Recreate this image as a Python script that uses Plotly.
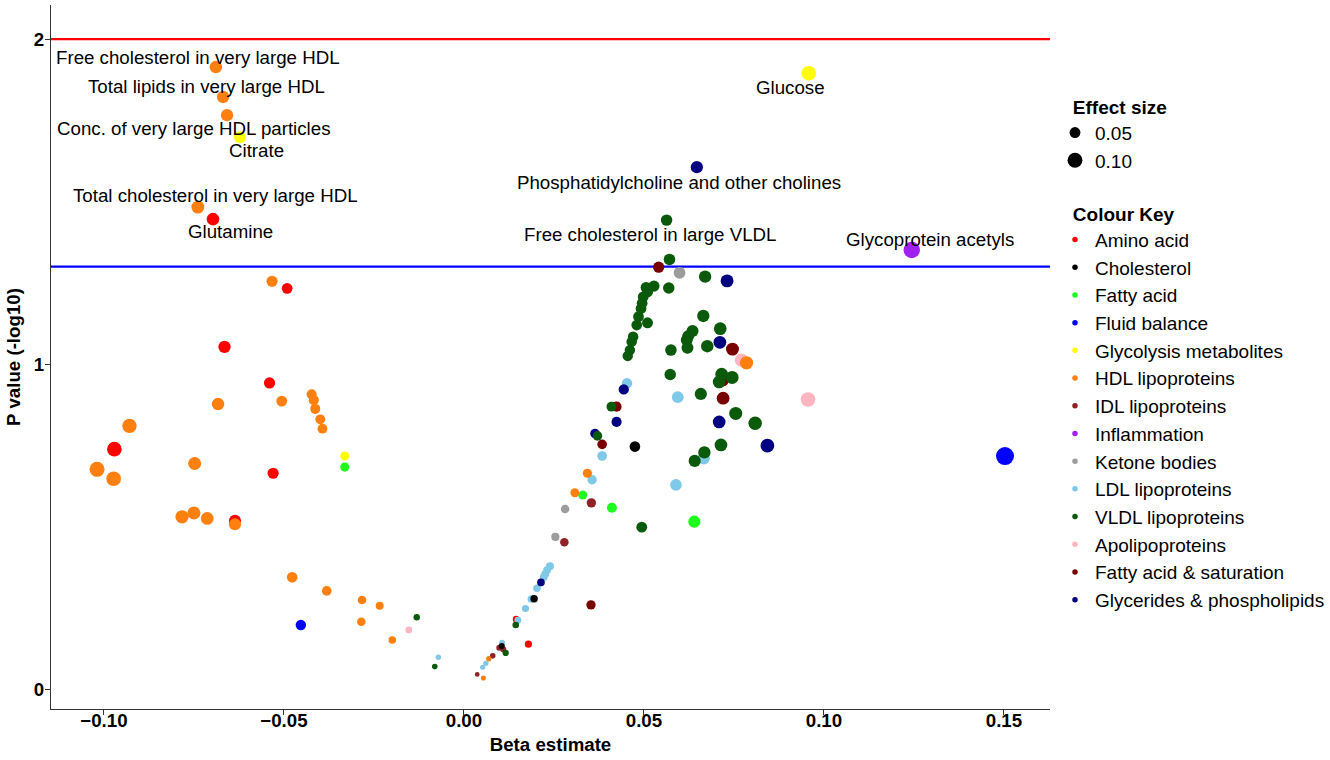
import numpy as np
import plotly.graph_objects as go

# ---------------- data (beta estimate, -log10 p) per colour-key category ----------------
categories = ["Amino acid", "Cholesterol", "Fatty acid", "Fluid balance", "Glycolysis metabolites",
              "HDL lipoproteins", "IDL lipoproteins", "Inflammation", "Ketone bodies", "LDL lipoproteins",
              "VLDL lipoproteins", "Apolipoproteins", "Fatty acid & saturation", "Glycerides & phospholipids"]

amino_beta = [-0.0697, -0.0491, -0.0665, -0.0540, -0.0971, -0.0530, -0.0636, 0.0179, 0.0145]
amino_p    = [1.446, 1.233, 1.053, 0.942, 0.738, 0.664, 0.518, 0.138, 0.215]

chol_beta = [0.0475, 0.0195, 0.0105]
chol_p    = [0.746, 0.278, 0.132]

fa_beta = [-0.0331, 0.0330, 0.0411, 0.0640]
fa_p    = [0.683, 0.597, 0.558, 0.515]

fluid_beta = [-0.0453, 0.1503]
fluid_p    = [0.197, 0.717]

glyc_beta = [0.0958, -0.0622, -0.0331]
glyc_p    = [1.895, 1.698, 0.717]

hdl_beta = [-0.0689, -0.0669, -0.0658, -0.0739, -0.0533, -0.0683, -0.0506, -0.0423, -0.0417, -0.0413,
            -0.0399, -0.0393, -0.0929, -0.0748, -0.1019, -0.0973, -0.0783, -0.0750, -0.0713, -0.0636,
            -0.0477, -0.0381, -0.0283, -0.0234, -0.0285, -0.0199, 0.0054, 0.0069, 0.0343, 0.0308, 0.0785]
hdl_p    = [1.914, 1.822, 1.766, 1.483, 1.255, 0.877, 0.886, 0.907, 0.889, 0.862,
            0.830, 0.801, 0.810, 0.694, 0.676, 0.647, 0.530, 0.542, 0.525, 0.507,
            0.344, 0.302, 0.274, 0.256, 0.207, 0.151, 0.034, 0.093, 0.664, 0.604, 1.004]

idl_beta = [0.0354, 0.0279, 0.0098, 0.0109, 0.0080, 0.0037]
idl_p    = [0.573, 0.452, 0.127, 0.122, 0.102, 0.045]

infl_beta = [0.1244]
infl_p    = [1.351]

ketone_beta = [0.0599, 0.0281, 0.0254]
ketone_p    = [1.281, 0.554, 0.468]

ldl_beta = [0.0453, 0.0594, 0.0666, 0.0384, 0.0356, 0.0589, 0.0239, 0.0231, 0.0226, 0.0222,
            0.0203, 0.0187, 0.0171, 0.0150, 0.0106, 0.0061, 0.0052, -0.0071]
ldl_p    = [0.941, 0.898, 0.710, 0.717, 0.644, 0.628, 0.378, 0.366, 0.354, 0.345,
            0.310, 0.277, 0.248, 0.212, 0.142, 0.079, 0.067, 0.098]

vldl_beta = [0.0563, 0.0571, 0.0670, 0.0506, 0.0528, 0.0569, 0.0510, 0.0498, 0.0495, 0.0492,
             0.0485, 0.0480, 0.0510, 0.0470, 0.0466, 0.0461, 0.0455, 0.0665, 0.0635, 0.0623,
             0.0619, 0.0712, 0.0575, 0.0621, 0.0676, 0.0573, 0.0716, 0.0745, 0.0709, 0.0658,
             0.0755, 0.0809, 0.0714, 0.0668, 0.0641, 0.0410, 0.0371, 0.0494, 0.0144, 0.0116,
             -0.0131, -0.0081]
vldl_p    = [1.443, 1.322, 1.269, 1.236, 1.240, 1.234, 1.222, 1.207, 1.187, 1.171,
             1.146, 1.120, 1.127, 1.084, 1.069, 1.043, 1.025, 1.148, 1.102, 1.086,
             1.074, 1.109, 1.043, 1.050, 1.055, 0.968, 0.969, 0.959, 0.945, 0.908,
             0.848, 0.818, 0.751, 0.728, 0.702, 0.869, 0.779, 0.498, 0.197, 0.111,
             0.221, 0.069]

apo_beta = [0.0771, 0.0956, -0.0153]
apo_p    = [1.012, 0.891, 0.182]

fasat_beta = [0.0541, 0.0746, 0.0719, 0.0720, 0.0424, 0.0384, 0.0353]
fasat_p    = [1.298, 1.046, 0.951, 0.895, 0.869, 0.753, 0.259]

glyph_beta = [0.0647, 0.0731, 0.0711, 0.0444, 0.0424, 0.0709, 0.0843, 0.0364, 0.0214]
glyph_p    = [1.606, 1.256, 1.067, 0.922, 0.822, 0.822, 0.749, 0.786, 0.328]

effect_sizes = [0.05, 0.10]
x_ticks = [-0.10, -0.05, 0.00, 0.05, 0.10, 0.15]
y_ticks = [0, 1, 2]
threshold_red = 2.0
threshold_blue = 1.30

# labelled metabolites: (category, index in that category's arrays, text)
labels = [
    ("HDL lipoproteins", 0, "Free cholesterol in very large HDL"),
    ("HDL lipoproteins", 1, "Total lipids in very large HDL"),
    ("HDL lipoproteins", 2, "Conc. of very large HDL particles"),
    ("Glycolysis metabolites", 1, "Citrate"),
    ("HDL lipoproteins", 3, "Total cholesterol in very large HDL"),
    ("Amino acid", 0, "Glutamine"),
    ("Glycolysis metabolites", 0, "Glucose"),
    ("Glycerides & phospholipids", 0, "Phosphatidylcholine and other cholines"),
    ("VLDL lipoproteins", 0, "Free cholesterol in large VLDL"),
    ("Inflammation", 0, "Glycoprotein acetyls"),
]
# label offsets in px (dx, dy) -- styling only
label_offsets = [(-18, 10), (-17, 10), (-33, -13), (16, -13), (18, 12), (17, -12),
                 (-18, -14), (-18, -15), (-17, -14), (18, 11)]

data = {
    "Amino acid": (amino_beta, amino_p),
    "Cholesterol": (chol_beta, chol_p),
    "Fatty acid": (fa_beta, fa_p),
    "Fluid balance": (fluid_beta, fluid_p),
    "Glycolysis metabolites": (glyc_beta, glyc_p),
    "HDL lipoproteins": (hdl_beta, hdl_p),
    "IDL lipoproteins": (idl_beta, idl_p),
    "Inflammation": (infl_beta, infl_p),
    "Ketone bodies": (ketone_beta, ketone_p),
    "LDL lipoproteins": (ldl_beta, ldl_p),
    "VLDL lipoproteins": (vldl_beta, vldl_p),
    "Apolipoproteins": (apo_beta, apo_p),
    "Fatty acid & saturation": (fasat_beta, fasat_p),
    "Glycerides & phospholipids": (glyph_beta, glyph_p),
}

colors = {
    "Amino acid": "#FF0000",
    "Cholesterol": "#000000",
    "Fatty acid": "#1EFF1E",
    "Fluid balance": "#0000FF",
    "Glycolysis metabolites": "#FFFF00",
    "HDL lipoproteins": "#FF7F0F",
    "IDL lipoproteins": "#8E2226",
    "Inflammation": "#A020F0",
    "Ketone bodies": "#9C9C9C",
    "LDL lipoproteins": "#7EC8E8",
    "VLDL lipoproteins": "#0B5A0B",
    "Apolipoproteins": "#FFB6C1",
    "Fatty acid & saturation": "#780000",
    "Glycerides & phospholipids": "#000080",
}

def size_of(b):
    # area-like size scale for |beta| -> marker diameter (px)
    return np.sqrt(14.7 + 2062.0 * np.abs(np.asarray(b, dtype=float)))

FONT = "Liberation Sans, Arial, Helvetica, sans-serif"
FS = 18.7
LFS = 19
INDENT = "\u00a0\u00a0\u00a0"  # nudges legend titles right to line up as in the reference

fig = go.Figure()

draw_order = ["Apolipoproteins", "Amino acid", "Fluid balance", "Glycolysis metabolites", "Fatty acid",
              "Ketone bodies", "IDL lipoproteins", "Fatty acid & saturation", "LDL lipoproteins",
              "Glycerides & phospholipids", "VLDL lipoproteins", "Cholesterol", "HDL lipoproteins",
              "Inflammation"]
for cat in draw_order:
    bx, py = data[cat]
    fig.add_trace(go.Scatter(
        x=bx, y=py, mode="markers", name=cat, showlegend=False,
        marker=dict(color=colors[cat], size=size_of(bx), sizemode="diameter", line=dict(width=0), opacity=1),
        hovertemplate=cat + "<br>beta=%{x}<br>-log10 p=%{y}<extra></extra>",
    ))

# legend: Effect size
for i, es in enumerate(effect_sizes):
    fig.add_trace(go.Scatter(
        x=[None], y=[None], mode="markers", name=f"{es:.2f}", legend="legend",
        marker=dict(color="black", size=float(size_of(es))), showlegend=True, legendrank=i + 1,
    ))
# legend: Colour Key
for i, cat in enumerate(categories):
    fig.add_trace(go.Scatter(
        x=[None], y=[None], mode="markers", name=cat, legend="legend2",
        marker=dict(color=colors[cat], size=5.5), showlegend=True, legendrank=i + 1,
    ))

# labels
for (cat, idx, txt), (dx, dy) in zip(labels, label_offsets):
    bx, py = data[cat]
    fig.add_annotation(x=bx[idx], y=py[idx], text=txt, showarrow=False, xshift=dx, yshift=dy,
                       font=dict(family=FONT, size=FS, color="black"))

# threshold lines
fig.add_shape(type="line", xref="paper", x0=0, x1=1, yref="y", y0=threshold_red, y1=threshold_red,
              line=dict(color="#FF0000", width=2.2), layer="below")
fig.add_shape(type="line", xref="paper", x0=0, x1=1, yref="y", y0=threshold_blue, y1=threshold_blue,
              line=dict(color="#0000FF", width=2.2), layer="below")

axis_common = dict(showgrid=False, zeroline=False, showline=True, linecolor="#333333", linewidth=1.3,
                   ticks="outside", ticklen=5, tickwidth=1.3, tickcolor="#333333", automargin=False,
                   tickfont=dict(family=FONT, size=FS, color="black", weight="bold"))

fig.update_layout(
    width=1330, height=760,
    margin=dict(l=51, r=280, t=5, b=51, autoexpand=False),
    paper_bgcolor="white", plot_bgcolor="white",
    font=dict(family=FONT, size=FS, color="black"),
    xaxis=dict(range=[-0.1147, 0.1628], tickvals=x_ticks, tickformat=".2f", ticklabelstandoff=-11,
               title=dict(text="Beta estimate", font=dict(family=FONT, size=FS, weight="bold"), standoff=8),
               **axis_common),
    yaxis=dict(range=[-0.0615, 2.105], tickvals=y_ticks, ticklabelstandoff=-3,
               title=dict(text="P value (-log10)", font=dict(family=FONT, size=FS, weight="bold"), standoff=8),
               **axis_common),
    legend=dict(x=0.005, y=0.8807, xanchor="left", yanchor="top", bgcolor="rgba(0,0,0,0)",
                title=dict(text=INDENT + "Effect size", font=dict(family=FONT, size=LFS, weight="bold")),
                font=dict(family=FONT, size=LFS), itemsizing="trace", tracegroupgap=0),
    legend2=dict(x=0.005, y=0.7287, xanchor="left", yanchor="top", bgcolor="rgba(0,0,0,0)",
                 title=dict(text=INDENT + "Colour Key", font=dict(family=FONT, size=LFS, weight="bold")),
                 font=dict(family=FONT, size=LFS), itemsizing="trace", tracegroupgap=0),
    showlegend=True,
)
# legends sit to the right of the plotting area
fig.update_layout(legend_x=1.005, legend2_x=1.005)

fig.write_html("out.html", config={"displayModeBar": False},
               post_script="document.body.style.margin='0px';")
